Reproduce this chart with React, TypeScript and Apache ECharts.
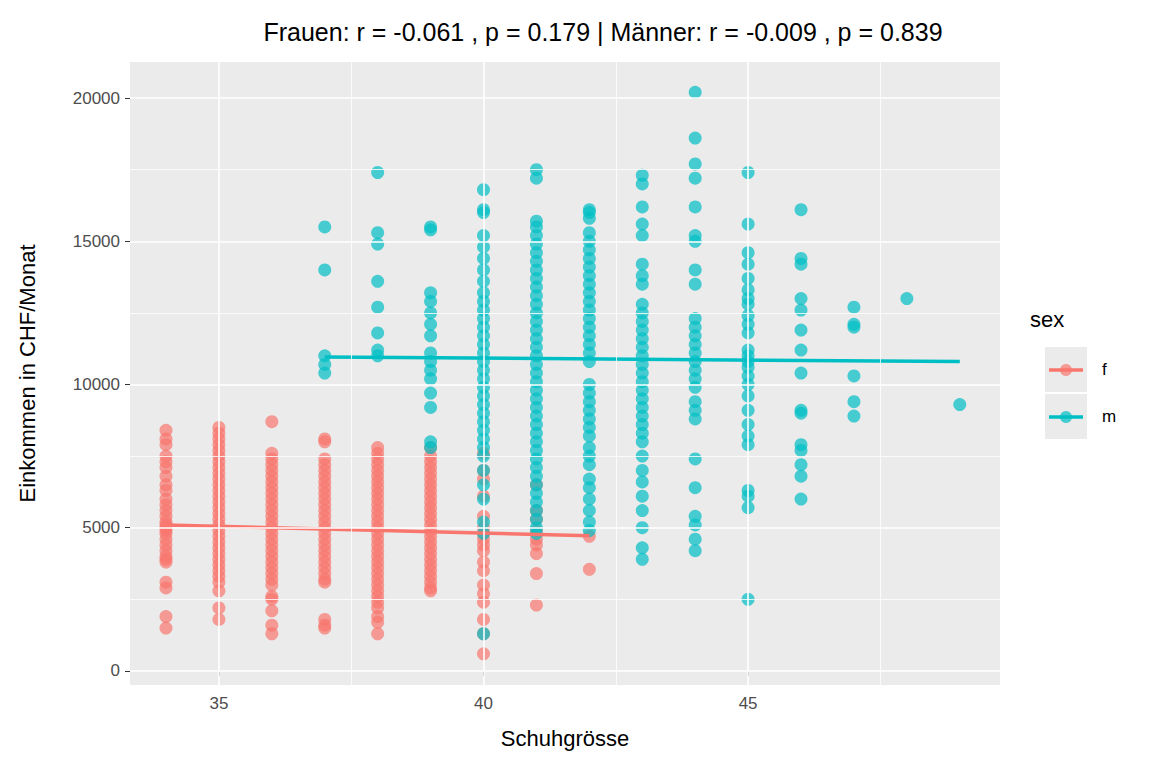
import React, { useEffect, useRef } from 'react';
import * as echarts from 'echarts';

const xMajor = [35, 40, 45];
const xMinor = [37.5, 42.5, 47.5];
const yMajor = [0, 5000, 10000, 15000, 20000];
const yMinor = [2500, 7500, 12500, 17500];

// Frauen: [Schuhgrösse, Einkommen...]
const femaleData: [number, number[]][] = [
  [34, [8400, 8100, 7900, 7500, 7300, 7100, 6800, 6500, 6300, 6000, 5800, 5600, 5400, 5200, 5100, 5000, 4900, 4800, 4600, 4400, 4200, 4000, 3900, 3800, 3100, 2900, 1900, 1500]],
  [35, [8500, 8300, 8100, 7900, 7700, 7500, 7300, 7100, 6900, 6700, 6500, 6300, 6100, 5900, 5700, 5500, 5300, 5100, 4900, 4700, 4500, 4300, 4100, 3900, 3700, 3500, 3300, 3100, 2800, 2200, 1800]],
  [36, [8700, 7600, 7400, 7200, 7000, 6800, 6600, 6400, 6200, 6000, 5800, 5600, 5400, 5200, 5000, 4800, 4600, 4400, 4200, 4000, 3800, 3600, 3400, 3200, 3000, 2600, 2500, 2100, 1600, 1300]],
  [37, [8100, 8000, 7400, 7200, 7000, 6800, 6600, 6400, 6200, 6000, 5800, 5600, 5400, 5200, 5000, 4800, 4600, 4400, 4200, 4000, 3800, 3600, 3400, 3200, 3100, 1800, 1600, 1500]],
  [38, [7800, 7600, 7400, 7200, 7000, 6800, 6600, 6400, 6200, 6000, 5800, 5600, 5400, 5200, 5000, 4800, 4600, 4400, 4200, 4000, 3800, 3600, 3400, 3200, 3000, 2800, 2600, 2400, 2200, 1900, 1700, 1300]],
  [39, [7800, 7500, 7300, 7100, 6900, 6700, 6500, 6300, 6100, 5900, 5700, 5500, 5300, 5100, 4900, 4700, 4500, 4300, 4100, 3900, 3700, 3500, 3300, 3100, 2900, 2800]],
  [40, [7600, 7000, 6700, 6100, 5400, 5000, 4800, 4600, 4400, 4200, 3800, 3500, 3000, 2700, 2400, 1800, 1300, 600]],
  [41, [6500, 5600, 5300, 4900, 4600, 4400, 4100, 3400, 2300]],
  [42, [4700, 3550]],
];

// Männer
const maleData: [number, number[]][] = [
  [37, [15500, 14000, 11000, 10700, 10400]],
  [38, [17400, 15300, 14900, 13600, 12700, 11800, 11200, 11000]],
  [39, [15500, 15400, 13200, 12900, 12500, 12100, 11700, 11100, 10800, 10500, 10200, 9700, 9200, 8000, 7800]],
  [40, [16800, 16100, 16000, 15200, 14800, 14400, 14000, 13600, 13200, 12900, 12600, 12300, 12000, 11700, 11400, 11100, 10800, 10500, 10200, 9900, 9600, 9300, 9000, 8700, 8400, 8100, 7800, 7500, 7000, 6500, 6000, 5200, 4800, 1300]],
  [41, [17500, 17200, 15700, 15500, 15200, 14900, 14600, 14300, 14000, 13700, 13400, 13100, 12800, 12500, 12200, 11900, 11600, 11300, 11000, 10700, 10400, 10100, 9800, 9500, 9200, 8900, 8600, 8300, 8000, 7700, 7400, 7100, 6800, 6500, 6200, 5900, 5600, 5300, 5000, 4800]],
  [42, [16100, 16000, 15800, 15300, 15000, 14700, 14400, 14100, 13800, 13500, 13200, 12900, 12600, 12300, 12000, 11700, 11400, 11100, 10800, 10000, 9700, 9400, 9100, 8800, 8500, 8200, 7800, 7500, 7200, 6700, 6400, 6000, 5600, 5200, 4900]],
  [43, [17300, 17000, 16200, 15600, 15200, 14200, 13800, 13500, 12800, 12500, 12200, 11900, 11600, 11300, 11000, 10700, 10400, 10100, 9800, 9500, 9200, 8900, 8600, 8300, 8000, 7500, 7000, 6600, 6100, 5600, 5000, 4300, 3900]],
  [44, [20200, 18600, 17700, 17200, 16200, 15200, 15000, 14000, 13500, 12300, 12000, 11700, 11400, 11100, 10800, 10500, 10200, 9900, 9400, 9100, 8800, 7400, 6400, 5400, 5100, 4600, 4200]],
  [45, [17400, 15600, 14600, 14200, 13700, 13300, 13000, 12800, 12400, 12100, 11800, 11200, 11000, 10800, 10600, 10300, 10000, 9600, 9100, 8600, 8200, 7900, 6300, 6100, 5700, 2500]],
  [46, [16100, 14400, 14200, 13000, 12600, 11900, 11200, 10400, 9100, 9000, 7900, 7700, 7200, 6800, 6000]],
  [47, [12700, 12100, 12000, 10300, 9400, 8900]],
  [48, [13000]],
  [49, [9300]],
];

// Regressionsgeraden (Endpunkte)
const femaleFit: [number, number][] = [[34, 5100], [42, 4720]];
const maleFit: [number, number][] = [[37, 10960], [49, 10800]];

const RED = '#F8766D';
const TEAL = '#00BFC4';

const flatten = (d: [number, number[]][]) =>
  d.flatMap(([x, vals]) => vals.map((v) => [x, v]));

const App = () => {
  const ref = useRef<HTMLDivElement>(null);

  useEffect(() => {
    if (!ref.current) return;
    const chart = echarts.init(ref.current, undefined, { renderer: 'svg' });

    const gridLines = [
      ...xMajor.map((v) => ({ xAxis: v, lineStyle: { width: 1.6 } })),
      ...xMinor.map((v) => ({ xAxis: v, lineStyle: { width: 0.8 } })),
      ...yMajor.map((v) => ({ yAxis: v, lineStyle: { width: 1.6 } })),
      ...yMinor.map((v) => ({ yAxis: v, lineStyle: { width: 0.8 } })),
    ];

    const option: echarts.EChartsOption = {
      animation: false,
      backgroundColor: '#fff',
      textStyle: { fontFamily: 'Arial, Liberation Sans, sans-serif' },
      title: {
        text: 'Frauen: r = -0.061 , p = 0.179 | Männer: r = -0.009 , p = 0.839',
        left: 598,
        textAlign: 'center',
        top: 14,
        textStyle: { fontSize: 25, fontWeight: 'normal', color: '#000' },
      },
      grid: {
        left: 130, right: 152, top: 62, bottom: 83,
        show: true, backgroundColor: '#EBEBEB', borderWidth: 0,
      },
      xAxis: {
        type: 'value', min: 33.32, max: 49.76,
        name: 'Schuhgrösse', nameLocation: 'middle', nameGap: 42,
        nameTextStyle: { fontSize: 22, color: '#000' },
        axisLine: { show: false },
        splitLine: { show: false },
        axisTick: { show: true, customValues: xMajor, length: 5, lineStyle: { color: '#333' } },
        axisLabel: { customValues: xMajor, fontSize: 17, color: '#4D4D4D', margin: 10 },
      },
      yAxis: {
        type: 'value', min: -489, max: 21257,
        name: 'Einkommen in CHF/Monat', nameLocation: 'middle', nameGap: 92,
        nameTextStyle: { fontSize: 22, color: '#000' },
        axisLine: { show: false },
        splitLine: { show: false },
        axisTick: { show: true, customValues: yMajor, length: 5, lineStyle: { color: '#333' } },
        axisLabel: {
          customValues: yMajor, fontSize: 17, color: '#4D4D4D', margin: 10,
          formatter: (v: number) => String(v),
        },
      },
      series: [
        {
          type: 'scatter', data: [], silent: true,
          markLine: {
            silent: true, symbol: 'none', label: { show: false },
            lineStyle: { color: '#fff', type: 'solid' },
            data: gridLines as any,
          },
        },
        {
          name: 'f', type: 'scatter', data: flatten(femaleData), symbolSize: 13,
          itemStyle: { color: RED, opacity: 0.7 },
        },
        {
          name: 'm', type: 'scatter', data: flatten(maleData), symbolSize: 13,
          itemStyle: { color: TEAL, opacity: 0.7 },
        },
        {
          type: 'line', data: femaleFit, symbol: 'none',
          lineStyle: { color: RED, width: 3.5 },
        },
        {
          type: 'line', data: maleFit, symbol: 'none',
          lineStyle: { color: TEAL, width: 3.5 },
        },
      ],
      graphic: [
        { type: 'text', left: 1030, top: 308, style: { text: 'sex', fontSize: 22, fill: '#000' } },
        { type: 'rect', shape: { x: 1045, y: 347, width: 42, height: 45 }, style: { fill: '#EBEBEB' } },
        { type: 'rect', shape: { x: 1045, y: 394, width: 42, height: 45 }, style: { fill: '#EBEBEB' } },
        { type: 'line', shape: { x1: 1049, y1: 370, x2: 1083, y2: 370 }, style: { stroke: RED, lineWidth: 3.5 } },
        { type: 'circle', shape: { cx: 1066, cy: 370, r: 6 }, style: { fill: RED, opacity: 0.7 } },
        { type: 'line', shape: { x1: 1049, y1: 417, x2: 1083, y2: 417 }, style: { stroke: TEAL, lineWidth: 3.5 } },
        { type: 'circle', shape: { cx: 1066, cy: 417, r: 6 }, style: { fill: TEAL, opacity: 0.7 } },
        { type: 'text', left: 1102, top: 361, style: { text: 'f', fontSize: 17, fill: '#000' } },
        { type: 'text', left: 1102, top: 408, style: { text: 'm', fontSize: 17, fill: '#000' } },
      ],
    };

    chart.setOption(option);
    return () => chart.dispose();
  }, []);

  return <div ref={ref} style={{ width: 1152, height: 768, margin: -8 }} />;
};

export default App;
